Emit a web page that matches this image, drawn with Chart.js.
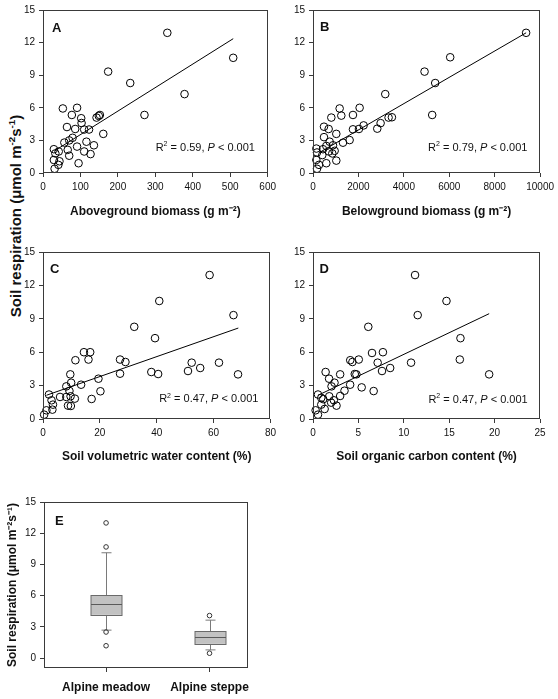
<!DOCTYPE html>
<html><head><meta charset="utf-8">
<script src="https://cdn.jsdelivr.net/npm/chart.js@4.4.0/dist/chart.umd.min.js"></script>
<style>
body{margin:0;background:#fff;}
#wrap{position:relative;width:558px;height:699px;overflow:hidden;font-family:"Liberation Sans",Arial,sans-serif;color:#111;}
canvas{position:absolute;}
#ylab{position:absolute;left:15px;top:216px;font-weight:bold;font-size:15px;white-space:nowrap;transform:translate(-50%,-50%) rotate(-90deg);}
#ylab sup{font-size:0.65em;vertical-align:0.55em;line-height:0;}
</style></head>
<body><div id="wrap">
<div id="ylab">Soil respiration (μmol m<sup>-2</sup>s<sup>-1</sup>)</div>
<canvas id="cA" width="280" height="222" style="left:0;top:0"></canvas>
<canvas id="cB" width="288" height="222" style="left:270px;top:0"></canvas>
<canvas id="cC" width="280" height="245" style="left:0;top:220px"></canvas>
<canvas id="cD" width="288" height="245" style="left:270px;top:220px"></canvas>
<canvas id="cE" width="280" height="219" style="left:0;top:480px"></canvas>
</div>
<script>
// ---------- data ----------
const respTicks = [0, 3, 6, 9, 12, 15];

const aboveBiomass = [332,508,174,233,378,271,161,53,91,77,102,103,64,86,110,123,143,149,152,79,70,57,66,91,116,136,110,127,70,29,33,42,29,44,41,95,31];
const respA = [12.9,10.6,9.33,8.28,7.26,5.34,3.6,5.94,6.0,5.34,5.04,4.6,4.23,4.05,4.0,4.0,5.1,5.25,5.34,3.24,3.0,2.8,2.13,2.43,2.88,2.55,1.98,1.74,1.59,2.19,1.8,1.98,1.2,1.08,0.75,0.9,0.39];
const fitAx = [31, 508], fitAy = [2.04, 12.36];
const ticksA = [0,100,200,300,400,500,600];

const belowBiomass = [9384,6041,4912,5381,3182,5249,1173,2053,1760,1246,806,484,689,1760,2023,2229,2830,2977,3328,3475,1026,484,1613,1320,733,880,953,586,440,147,176,704,850,410,147,264,586,1026,176];
const respB = [12.9,10.65,9.33,8.28,7.26,5.34,5.94,6.0,5.34,5.28,5.1,4.26,4.05,4.02,4.05,4.38,4.08,4.59,5.1,5.13,3.6,3.3,3.03,2.79,2.88,2.55,2.04,2.49,2.19,2.25,1.89,1.98,1.8,1.65,1.2,0.75,0.9,1.14,0.39];
const fitBx = [290, 9384], fitBy = [1.89, 12.9];
const ticksB = [0,2000,4000,6000,8000,10000];

const waterContent = [58.6,40.9,67,32.1,39.4,14.4,16.6,16,11.4,27.1,29,52.3,61.9,55.3,51,38.1,40.5,27.1,9.6,68.6,19.5,9.9,13.4,8.2,9.3,20.2,2.1,6,8.2,9.7,11.2,17.1,3,3.5,8.8,9.8,3.3,1.2,0.4];
const respC = [12.93,10.6,9.33,8.28,7.26,6.0,6.0,5.34,5.28,5.34,5.12,5.06,5.06,4.58,4.31,4.22,4.04,4.07,4.01,4.01,3.62,3.26,3.08,2.93,2.52,2.49,2.2,1.98,1.98,2.04,1.83,1.8,1.68,1.29,1.2,1.17,0.84,0.78,0.39];
const fitCx = [1.2, 68.7], fitCy = [2.13, 8.17];
const ticksC = [0,20,40,60,80];

const organicCarbon = [11.24,14.7,11.53,6.09,16.24,16.17,19.4,6.5,7.7,4.1,4.34,5.04,7.12,10.8,8.5,7.6,4.6,4.78,1.39,2.99,1.77,2.37,4.09,2.04,5.36,3.47,6.68,2.99,1.79,0.55,0.91,1.13,2.3,2.0,2.59,0.91,1.28,0.29,0.55];
const respD = [12.93,10.6,9.33,8.28,7.26,5.34,4.01,5.93,6.0,5.28,5.12,5.34,5.06,5.06,4.58,4.31,4.04,4.01,4.22,4.01,3.62,3.26,3.08,2.93,2.84,2.54,2.51,2.07,2.04,2.2,1.9,1.78,1.68,1.47,1.2,1.29,0.9,0.78,0.39];
const fitDx = [0.55, 19.4], fitDy = [2.13, 9.46];
const ticksD = [0,5,10,15,20,25];

const r2Values = ['0.59', '0.79', '0.47', '0.47'];
const pValueText = '< 0.001';

const groups = ['Alpine meadow', 'Alpine steppe'];
const boxLow = [2.68, 0.78];
const boxQ1 = [4.15, 1.36];
const boxMedian = [5.17, 2.01];
const boxQ3 = [6.04, 2.55];
const boxHigh = [10.12, 3.64];
const outlierGroup = [0, 0, 0, 0, 1, 1];
const outlierValue = [12.99, 10.68, 2.5, 1.18, 4.08, 0.46];

// ---------- styling ----------
const FONT = '"Liberation Sans", Arial, sans-serif';
const TXT = '#111';
const FRAME = '#3a3a3a';

function pts(xs, ys) { return xs.map((x, i) => ({x: x, y: ys[i]})); }

const panelDecor = {
  id: 'panelDecor',
  afterDatasetsDraw(chart, args, o) {
    const a = chart.chartArea, ctx = chart.ctx;
    ctx.save();
    ctx.strokeStyle = FRAME; ctx.lineWidth = 1;
    ctx.strokeRect(Math.round(a.left) + 0.5, Math.round(a.top) + 0.5,
                   Math.round(a.right) - Math.round(a.left) - 1, Math.round(a.bottom) - Math.round(a.top) - 1);
    ctx.fillStyle = TXT;
    ctx.textBaseline = 'alphabetic';
    ctx.textAlign = 'left';
    ctx.font = 'bold 13px ' + FONT;
    ctx.fillText(o.letter, a.left + o.lx, a.top + o.ly);
    if (o.r2) {
      const parts = [
        {t: 'R', f: '11px ' + FONT, dy: 0},
        {t: '2', f: '7px ' + FONT, dy: -4.5},
        {t: ' = ' + o.r2 + ', ', f: '11px ' + FONT, dy: 0},
        {t: 'P', f: 'italic 11px ' + FONT, dy: 0},
        {t: ' ' + pValueText, f: '11px ' + FONT, dy: 0}
      ];
      let total = 0;
      parts.forEach(p => { ctx.font = p.f; p.w = ctx.measureText(p.t).width; total += p.w; });
      let x = a.right - o.rx - total;
      const y = a.bottom - o.ry;
      parts.forEach(p => { ctx.font = p.f; ctx.fillText(p.t, x, y + p.dy); x += p.w; });
    }
    ctx.restore();
  }
};

function axisCommon(tickVals, fitFn) {
  return {
    type: 'linear',
    afterBuildTicks: s => { s.ticks = tickVals.map(v => ({value: v})); },
    afterFit: fitFn,
    grid: {drawOnChartArea: false, drawTicks: true, tickLength: 4, color: FRAME},
    border: {display: false},
    ticks: {font: {family: FONT, size: 10}, color: TXT, padding: 4, maxRotation: 0, autoSkip: false,
            callback: v => String(v)}
  };
}

function scatterPanel(id, c) {
  const xAxis = axisCommon(c.xticks, s => { s.height = c.xh; });
  xAxis.min = c.xmin; xAxis.max = c.xmax;
  xAxis.title = {display: true, text: c.title, color: TXT, font: {family: FONT, size: 12, weight: 'bold'}, padding: {top: 0, bottom: c.tpb}};
  const yAxis = axisCommon(respTicks, s => { s.width = 43; });
  yAxis.min = 0; yAxis.max = 15;
  return new Chart(document.getElementById(id), {
    type: 'scatter',
    data: {datasets: [
      {type: 'line', data: pts(c.fx, c.fy), borderColor: '#000', borderWidth: 1, pointRadius: 0, fill: false, clip: false, order: 2},
      {data: pts(c.xs, c.ys), pointRadius: 3.8, pointHoverRadius: 3.8, borderColor: '#000', backgroundColor: 'rgba(0,0,0,0)', borderWidth: 1, clip: false, order: 1}
    ]},
    options: {
      responsive: false, animation: false, devicePixelRatio: 1,
      layout: {padding: {left: 0, right: c.pr, top: c.pt, bottom: 0}},
      plugins: {legend: {display: false}, tooltip: {enabled: false}, panelDecor: c.decor},
      scales: {x: xAxis, y: yAxis}
    },
    plugins: [panelDecor]
  });
}

scatterPanel('cA', {xs: aboveBiomass, ys: respA, fx: fitAx, fy: fitAy, xmin: 0, xmax: 600, xticks: ticksA,
  title: 'Aboveground biomass (g m⁻²)', xh: 49, tpb: 3, pr: 9, pt: 6,
  decor: {letter: 'A', lx: 9, ly: 21.5, r2: r2Values[0], rx: 12.7, ry: 22.5}});
scatterPanel('cB', {xs: belowBiomass, ys: respB, fx: fitBx, fy: fitBy, xmin: 0, xmax: 10000, xticks: ticksB,
  title: 'Belowground biomass (g m⁻²)', xh: 49, tpb: 3, pr: 17, pt: 6,
  decor: {letter: 'B', lx: 7, ly: 21, r2: r2Values[1], rx: 12.7, ry: 22.5}});
scatterPanel('cC', {xs: waterContent, ys: respC, fx: fitCx, fy: fitCy, xmin: 0, xmax: 80, xticks: ticksC,
  title: 'Soil volumetric water content (%)', xh: 46, tpb: 1, pr: 8, pt: 32,
  decor: {letter: 'C', lx: 7, ly: 21.3, r2: r2Values[2], rx: 12, ry: 17}});
scatterPanel('cD', {xs: organicCarbon, ys: respD, fx: fitDx, fy: fitDy, xmin: 0, xmax: 25, xticks: ticksD,
  title: 'Soil organic carbon content (%)', xh: 46, tpb: 1, pr: 18, pt: 32,
  decor: {letter: 'D', lx: 6.5, ly: 21.3, r2: r2Values[3], rx: 12.3, ry: 16.5}});

// ---------- panel E: box plot ----------
const boxDraw = {
  id: 'boxDraw',
  beforeDatasetsDraw(chart) {
    const ctx = chart.ctx, xs = chart.scales.x, ys = chart.scales.y;
    ctx.save();
    groups.forEach((g, i) => {
      const cx = Math.round(xs.getPixelForValue(i)) + 0.5;
      const half = 15.5, cap = 5;
      const yl = ys.getPixelForValue(boxLow[i]), y1 = ys.getPixelForValue(boxQ1[i]);
      const ym = ys.getPixelForValue(boxMedian[i]), y3 = ys.getPixelForValue(boxQ3[i]);
      const yh = ys.getPixelForValue(boxHigh[i]);
      ctx.strokeStyle = '#7a7a7a'; ctx.lineWidth = 1;
      ctx.beginPath();
      ctx.moveTo(cx, y3); ctx.lineTo(cx, yh);
      ctx.moveTo(cx - cap, yh); ctx.lineTo(cx + cap, yh);
      ctx.moveTo(cx, y1); ctx.lineTo(cx, yl);
      ctx.moveTo(cx - cap, yl); ctx.lineTo(cx + cap, yl);
      ctx.stroke();
      ctx.fillStyle = '#c2c2c2';
      ctx.fillRect(cx - half, y3, 2 * half, y1 - y3);
      ctx.strokeStyle = '#6a6a6a';
      ctx.strokeRect(cx - half, Math.round(y3) + 0.5, 2 * half, Math.round(y1) - Math.round(y3));
      ctx.strokeStyle = '#5a5a5a';
      ctx.beginPath(); ctx.moveTo(cx - half, Math.round(ym) + 0.5); ctx.lineTo(cx + half, Math.round(ym) + 0.5); ctx.stroke();
    });
    ctx.restore();
  }
};

const exAxis = axisCommon([0, 1], s => { s.height = 31; });
exAxis.min = -0.6; exAxis.max = 1.372;
exAxis.ticks.callback = v => groups[v];
exAxis.ticks.font = {family: FONT, size: 12, weight: 'bold'};
exAxis.ticks.padding = 8;
const eyAxis = axisCommon(respTicks, s => { s.width = 44; });
eyAxis.min = -0.96; eyAxis.max = 15;
eyAxis.title = {display: true, text: 'Soil respiration (μmol m⁻²s⁻¹)', color: TXT, font: {family: FONT, size: 12, weight: 'bold'}, padding: {top: 5, bottom: 0}};

new Chart(document.getElementById('cE'), {
  type: 'scatter',
  data: {datasets: [
    {data: outlierValue.map((v, i) => ({x: outlierGroup[i], y: v})), pointRadius: 2.3, borderColor: '#333', backgroundColor: 'rgba(0,0,0,0)', borderWidth: 1, clip: false}
  ]},
  options: {
    responsive: false, animation: false, devicePixelRatio: 1,
    layout: {padding: {left: 0, right: 32, top: 22, bottom: 0}},
    plugins: {legend: {display: false}, tooltip: {enabled: false}, panelDecor: {letter: 'E', lx: 11, ly: 23}},
    scales: {x: exAxis, y: eyAxis}
  },
  plugins: [boxDraw, panelDecor]
});
</script>
</body></html>
